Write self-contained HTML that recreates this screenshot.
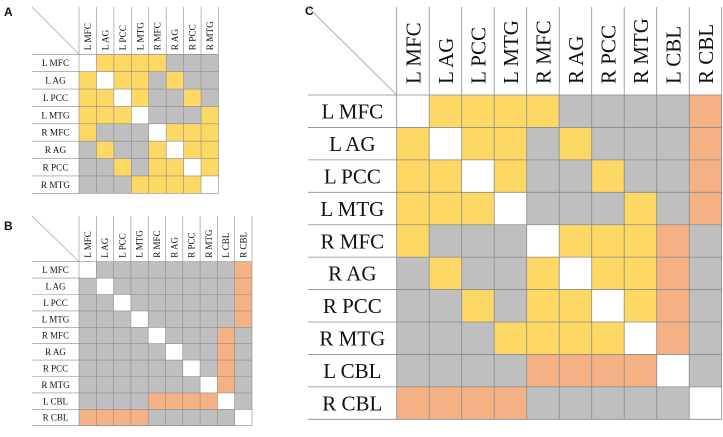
<!DOCTYPE html>
<html><head><meta charset="utf-8">
<style>
body{margin:0;background:#fff;}
svg{display:block;}
text{font-family:"Liberation Serif",serif;fill:#111;}
.pl{font-family:"Liberation Sans",sans-serif;font-weight:bold;}
</style></head>
<body>
<svg id="chart" width="723" height="437" viewBox="0 0 723 437" xmlns="http://www.w3.org/2000/svg">
<text class="pl" x="4" y="16" font-size="12">A</text>
<text class="pl" x="4" y="230" font-size="12">B</text>
<text class="pl" x="305" y="15" font-size="12">C</text>
</svg>
<script>
const labelsA = ["L MFC","L AG","L PCC","L MTG","R MFC","R AG","R PCC","R MTG"];
const labelsBC = ["L MFC","L AG","L PCC","L MTG","R MFC","R AG","R PCC","R MTG","L CBL","R CBL"];
const matrixA = [
"WYYYYGGG",
"YWYYGYGG",
"YYWYGGYG",
"YYYWGGGY",
"YGGGWYYY",
"GYGGYWYY",
"GGYGYYWY",
"GGGYYYYW"];
const matrixB = [
"WGGGGGGGGO",
"GWGGGGGGGO",
"GGWGGGGGGO",
"GGGWGGGGGO",
"GGGGWGGGOG",
"GGGGGWGGOG",
"GGGGGGWGOG",
"GGGGGGGWOG",
"GGGGOOOOWG",
"OOOOGGGGGW"];
const matrixC = [
"WYYYYGGGGO",
"YWYYGYGGGO",
"YYWYGGYGGO",
"YYYWGGGYGO",
"YGGGWYYYOG",
"GYGGYWYYOG",
"GGYGYYWYOG",
"GGGYYYYWOG",
"GGGGOOOOWG",
"OOOOGGGGGW"];
const colorOf = {W:"#ffffff",Y:"#fed865",G:"#bfbfbf",O:"#f4b183"};
const NS="http://www.w3.org/2000/svg";
const svg=document.getElementById('chart');
function mk(tag,attrs,parent){const e=document.createElementNS(NS,tag);for(const k in attrs)e.setAttribute(k,attrs[k]);(parent||svg).appendChild(e);return e;}

function panel(id,labels,matrix,g){
  const n=labels.length;
  const grp=mk('g',{});
  
  
  const xs=i=>g.gx+i*(g.gw/n), ys=j=>g.gy+j*(g.gh/n);
  const cw=g.gw/n, ch=g.gh/n;
  for(let r=0;r<n;r++)for(let c=0;c<n;c++){
    const rc=mk('rect',{x:xs(c),y:ys(r),width:cw,height:ch,fill:colorOf[matrix[r][c]]},grp);
    
    
  }
  const ln={stroke:"#8a8a8a","stroke-width":g.sw};
  for(let c=0;c<=n;c++) mk('line',Object.assign({x1:xs(c),y1:g.top,x2:xs(c),y2:g.gy+g.gh},ln),grp);
  for(let r=0;r<=n;r++) mk('line',Object.assign({x1:g.lx,y1:ys(r),x2:g.gx+g.gw,y2:ys(r)},ln),grp);
  mk('line',{x1:g.lx,y1:g.top,x2:g.gx,y2:g.gy,stroke:"#999","stroke-width":g.sw},grp);
  for(let r=0;r<n;r++){
    const t=mk('text',{x:(g.lx+g.gx)/2,y:ys(r)+ch/2+g.fs*0.35,"font-size":g.fs,"text-anchor":"middle"},grp);
    t.textContent=labels[r];
    
    
  }
  for(let c=0;c<n;c++){
    const cx=xs(c)+cw/2+g.fs*0.35, cy=g.gy-g.pad;
    const t=mk('text',{x:cx,y:cy,"font-size":g.fs,transform:`rotate(-90 ${cx} ${cy})`},grp);
    t.textContent=labels[c];
    
    
  }
}
panel('a',labelsA,matrixA,{lx:32,top:7,gx:79,gy:54.3,gw:139.5,gh:139,fs:9.3,pad:4,sw:0.6});
panel('b',labelsBC,matrixB,{lx:32,top:216,gx:79,gy:261.7,gw:173,gh:164,fs:9,pad:4,sw:0.6});
panel('c',labelsBC,matrixC,{lx:308,top:7,gx:396.7,gy:95,gw:325,gh:324.3,fs:21,pad:11,sw:0.8});
</script>
</body></html>
